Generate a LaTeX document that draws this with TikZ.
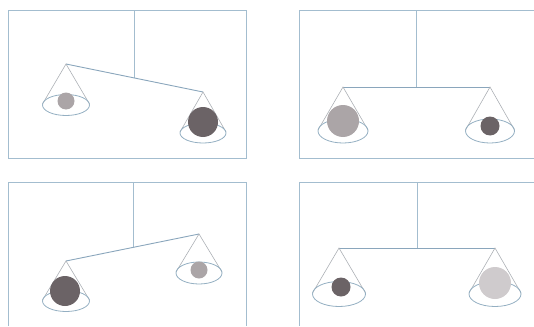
\documentclass[tikz,border=0pt]{standalone}
\usepackage{tikz}
\definecolor{framec}{HTML}{A3BDCF}
\definecolor{beamc}{HTML}{8AA6BC}
\definecolor{conec}{HTML}{ACB0B5}
\definecolor{ellc}{HTML}{94AFC2}
\definecolor{balldark}{HTML}{6B6366}
\definecolor{ballmid}{HTML}{ABA5A7}
\definecolor{balllight}{HTML}{CFCBCD}
\tikzset{
  framebox/.style={draw=framec, line width=1pt},
  beamline/.style={draw=beamc, line width=0.9pt},
  coneline/.style={draw=conec, line width=0.6pt},
  panell/.style={draw=ellc, line width=0.8pt},
}
% \scalepan{cx}{apex y}{ell cy}{rx}{ry}{ball x}{ball y}{r}{colour}
\newcommand{\scalepan}[9]{%
  \coordinate (apx) at (#1,#2);
  \draw[coneline] (#1-#4,#3-1) -- (apx) -- (#1+#4,#3-1);
  \draw[panell] (#1,#3) ellipse [x radius=#4, y radius=#5];
  \fill[#9] (#6,#7) circle [radius=#8];
}
\begin{document}
\begin{tikzpicture}[x=1pt,y=-1pt]
\useasboundingbox (0,0) rectangle (534,326);
% ---------- panel 1 (top-left) ----------
\draw[framebox] (8,11) rectangle (246,158);
\coordinate (p1top) at (134,11);
\coordinate (p1piv) at (134,78);
\coordinate (p1l) at (66,64);
\coordinate (p1r) at (203,92);
\draw[framebox] (p1top) -- (p1piv);
\draw[beamline] (p1l) -- (p1r);
\scalepan{66}{64}{105}{23.5}{10.5}{66}{101}{8.5}{ballmid}
\scalepan{203}{92}{133}{23}{10}{203}{122}{15}{balldark}
% ---------- panel 2 (top-right) ----------
\draw[framebox] (534,11) -- (299,11) -- (299,158) -- (534,158);
\coordinate (p2top) at (416,11);
\coordinate (p2piv) at (416,87);
\coordinate (p2l) at (343,87);
\coordinate (p2r) at (490,87);
\draw[framebox] (p2top) -- (p2piv);
\draw[beamline] (p2l) -- (p2r);
\scalepan{343}{87}{131}{25}{12}{343}{121}{16}{ballmid}
\scalepan{490}{87}{131}{24.5}{12}{490}{126}{9.5}{balldark}
% ---------- panel 3 (bottom-left) ----------
\draw[framebox] (8,326) -- (8,182) -- (246,182) -- (246,326);
\coordinate (p3top) at (133,182);
\coordinate (p3piv) at (133,247);
\coordinate (p3l) at (66,261);
\coordinate (p3r) at (199,234);
\draw[framebox] (p3top) -- (p3piv);
\draw[beamline] (p3l) -- (p3r);
\scalepan{66}{261}{301}{23.5}{10.5}{65}{291}{15}{balldark}
\scalepan{199}{234}{273}{23}{11}{199}{270}{8.5}{ballmid}
% ---------- panel 4 (bottom-right) ----------
\draw[framebox] (534,182) -- (299,182) -- (299,326);
\coordinate (p4top) at (417,182);
\coordinate (p4piv) at (417,248);
\coordinate (p4l) at (339,248);
\coordinate (p4r) at (495,248);
\draw[framebox] (p4top) -- (p4piv);
\draw[beamline] (p4l) -- (p4r);
\scalepan{339}{248}{294}{26.5}{12.5}{341}{287}{9.5}{balldark}
\scalepan{495}{248}{294}{26}{12.5}{495}{283}{16}{balllight}
\end{tikzpicture}
\end{document}
